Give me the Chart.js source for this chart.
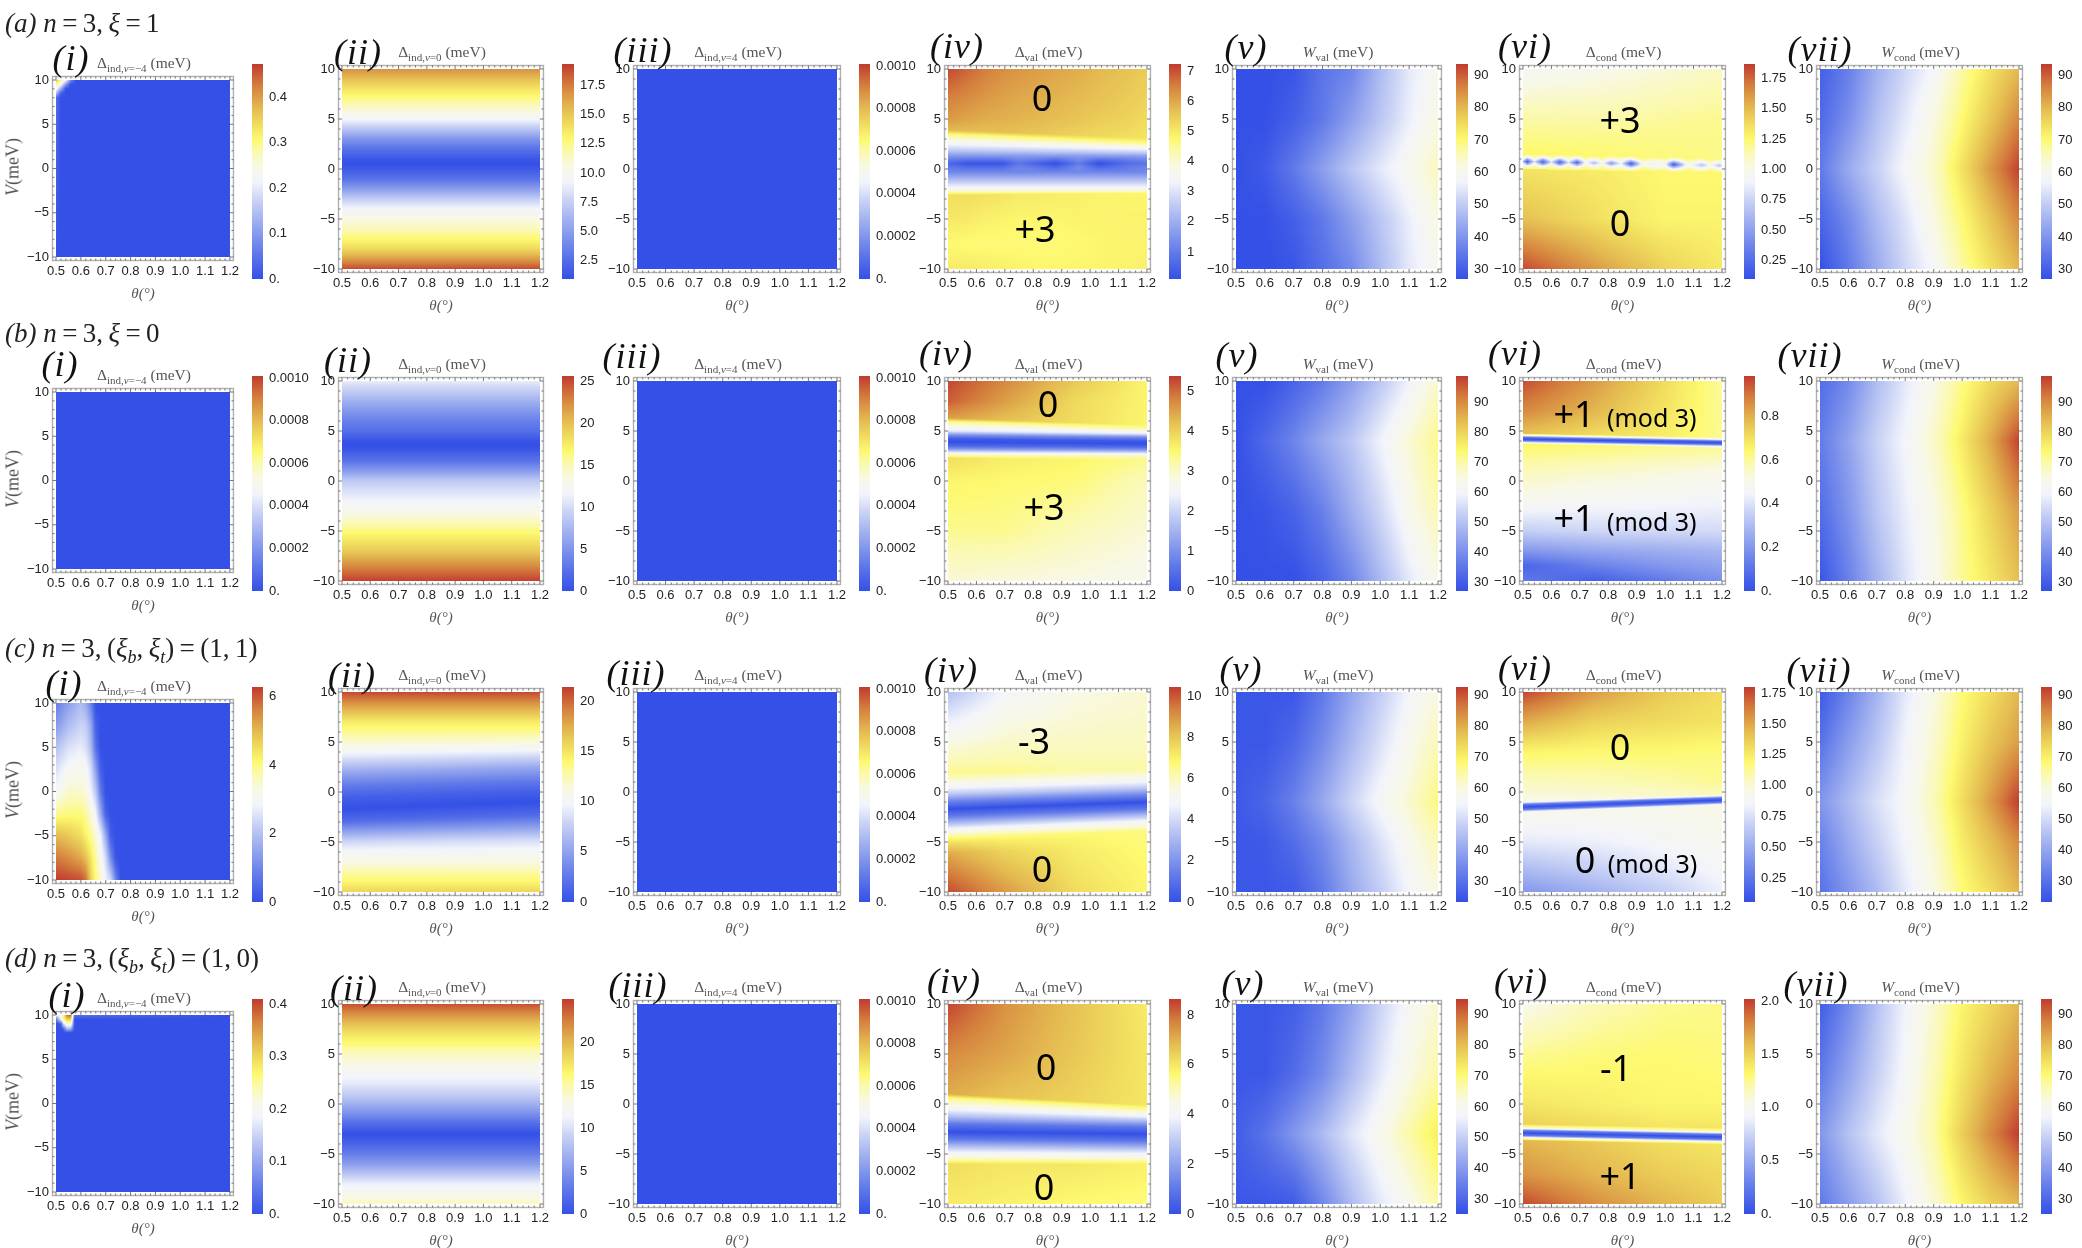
<!DOCTYPE html>
<html>
<head>
<meta charset="utf-8">
<style>
  html, body { margin: 0; padding: 0; background: #fff; }
  #page { position: relative; width: 2082px; height: 1248px; overflow: hidden; }
  canvas { position: absolute; }
  .txt { position: absolute; transform: translate(-50%, -50%); white-space: nowrap; }
  .rowTitle { font: 27px "Liberation Serif", serif; color: #222; transform: translate(0, -50%); }
  .rowTitle sub { font-size: 18px; line-height: 0; }
  .panelTag { font: italic 36px "Liberation Serif", serif; color: #111; letter-spacing: 1px; }
  .plotTitle { font: 15.5px "Liberation Serif", serif; color: #555; }
  .plotTitle sub { font-size: 11px; line-height: 0; }
  .vLabel { font: 18px "Liberation Serif", serif; color: #555; transform: translate(-50%, -50%) rotate(-90deg); }
  .note { font: 36px "Noto Sans", sans-serif; color: #000; }
  .note small { font-size: 25px; margin-left: 3px; }
</style>
</head>
<body>
<div id="page"></div>
<script src="https://cdn.jsdelivr.net/npm/chart.js@4"></script>
<script>
// axes shared by every panel
const thetaTicks = [0.5, 0.6, 0.7, 0.8, 0.9, 1.0, 1.1, 1.2];
const thetaLabels = ['0.5', '0.6', '0.7', '0.8', '0.9', '1.0', '1.1', '1.2'];
const vTicks = [-10, -5, 0, 5, 10];
const vLabels = ['\u221210', '\u22125', '0', '5', '10'];
const wX = [0.5, 0.6, 0.7, 0.8, 0.9, 1.0, 1.1, 1.2];

// colour bar labels
const milliTicks = ['0.', '0.0002', '0.0004', '0.0006', '0.0008', '0.0010'];
const decaTicks = ['30', '40', '50', '60', '70', '80', '90'];
const quarterTicks = ['0.25', '0.50', '0.75', '1.00', '1.25', '1.50', '1.75'];
const a1Ticks = ['0.', '0.1', '0.2', '0.3', '0.4'];
const a2Ticks = ['2.5', '5.0', '7.5', '10.0', '12.5', '15.0', '17.5'];
const a4Ticks = ['1', '2', '3', '4', '5', '6', '7'];
const b2Ticks = ['0', '5', '10', '15', '20', '25'];
const b4Ticks = ['0', '1', '2', '3', '4', '5'];
const b6Ticks = ['0.', '0.2', '0.4', '0.6', '0.8'];
const c1Ticks = ['0', '2', '4', '6'];
const c2Ticks = ['0', '5', '10', '15', '20'];
const c4Ticks = ['0', '2', '4', '6', '8', '10'];
const d4Ticks = ['0', '2', '4', '6', '8'];
const d6Ticks = ['0.', '0.5', '1.0', '1.5', '2.0'];

// panels (iii) and the b (i) panel are flat zero
const zeroX = [0.85];
const zeroY = [0];
const zeroZ = [0];

// row a
const a1X = [0.5, 0.52, 0.54, 0.56, 0.58, 1.2];
const a1Y = [10, 9.5, 9, 8.5, 8, -10];
const a1Z = [
  [0.38, 0.3, 0.22, 0.08, 0, 0],
  [0.3, 0.22, 0.1, 0, 0, 0],
  [0.24, 0.12, 0, 0, 0, 0],
  [0.15, 0.02, 0, 0, 0, 0],
  [0.04, 0, 0, 0, 0, 0],
  0
];
const a2X = [0.85];
const a2Y = [10, 9, 8, 7, 6, 5, 4, 3, 2, 1, 0.5, 0, -1, -2, -3, -4, -5, -6, -7, -8, -9, -10];
const a2Z = [16.9, 15.3, 13.8, 12.5, 11, 9.4, 7, 4.6, 2.8, 1.3, 0.95, 1.5, 2.8, 5, 7.4, 9.4, 10.5, 11.6, 12.9, 14.3, 16.5, 18.9];
const a4X = [0.5, 0.57, 0.63, 0.69, 0.75, 0.81, 0.88, 0.96, 1.03, 1.13, 1.2];
const a4Y = [10, 7, 5, 3.9, 3.5, 3, 2.4, 1.85, 1.4, 0.9, 0.55, 0.1, -0.3, -0.8, -1.3, -1.8, -2.2, -2.6, -5, -7.5, -10];
const a4Y2 = [10, 7, 5, 3.1, 2.7, 2.3, 1.95, 1.6, 1.3, 0.9, 0.55, 0.1, -0.3, -0.8, -1.3, -1.8, -2.2, -2.4, -5, -7.5, -10];
const a4Z = [
  [7.1, 6.8, 6.55, 6.35, 6.25, 6.15, 6.05, 5.95, 5.8, 5.65, 5.5],
  [6.5, 6.35, 6.2, 6.1, 6.0, 5.95, 5.85, 5.75, 5.65, 5.5, 5.4],
  [6.2, 6.05, 5.95, 5.9, 5.85, 5.8, 5.7, 5.6, 5.5, 5.4, 5.25],
  [5.8, 5.75, 5.7, 5.7, 5.65, 5.6, 5.5, 5.4, 5.3, 5.2, 5.1],
  4.75, 4.0, 3.25, 2.5, 1.7,
  [1.0, 0.8, 0.8, 0.8, 1.2, 1.0, 0.7, 1.3, 0.7, 1.0, 1.2],
  [0.6, 0.2, 0.2, 0.2, 0.9, 0.5, 0.1, 1.0, 0.1, 0.7, 0.9],
  [1.0, 0.8, 0.8, 0.8, 1.2, 1.0, 0.7, 1.3, 0.7, 1.0, 1.2],
  1.2, 1.9, 2.6, 3.3, 4.0,
  [5.2, 5.2, 5.15, 5.1, 5, 5, 4.95, 4.9, 4.85, 4.8, 4.8],
  [5.05, 5, 4.9, 4.85, 4.8, 4.8, 4.8, 4.85, 4.85, 4.85, 4.85],
  [4.75, 4.7, 4.7, 4.7, 4.7, 4.7, 4.7, 4.75, 4.8, 4.85, 4.85],
  [5.0, 5, 4.95, 4.9, 4.85, 4.8, 4.8, 4.8, 4.8, 4.85, 4.9]
];
const a5Y = [10, 5, 0, -5, -10];
const a5Z = [
  [27, 27, 28, 34, 37, 47, 55, 60],
  [27, 27, 30, 35, 42, 49, 56, 62],
  [27, 29, 35, 42, 49, 55, 60, 65],
  [27, 27, 30, 35, 42, 49, 56, 62],
  [27, 27, 28, 33, 38, 47, 55, 60]
];
const a6X = [0.5, 0.8, 1, 1.2];
const a6Y = [10, 5, 1.2, 0, -5, -10];
const a6Z = [
  [0.95, 1.0, 1.05, 1.1],
  [1.16, 1.16, 1.18, 1.2],
  [1.27, 1.25, 1.23, 1.21],
  [1.34, 1.3, 1.25, 1.25],
  [1.48, 1.34, 1.27, 1.27],
  [1.83, 1.57, 1.41, 1.32]
];
// the broken thin line near V = 0.5 in a (vi)
const a6LineX = [0.5, 0.515, 0.54, 0.57, 0.6, 0.63, 0.66, 0.69, 0.72, 0.75, 0.78, 0.81, 0.845, 0.88, 0.92, 0.96, 1.0, 1.03, 1.08, 1.13, 1.16, 1.19, 1.2];
const a6LineY = [1.5, 1.2, 0.97, 0.75, 0.53, 0.3, 0];
const a6LineY2 = [1.1, 0.8, 0.57, 0.35, 0.13, -0.1, -0.4];
const a6Core = [0.6, 0.18, 0.8, 0.18, 0.8, 0.18, 0.8, 0.2, 0.95, 0.63, 0.95, 0.45, 0.9, 0.15, 0.95, 0.86, 0.95, 0.15, 1.0, 0.66, 0.95, 0.68, 0.8];
const a6Edge = [0.95, 0.5, 1.0, 0.5, 1.0, 0.5, 1.0, 0.55, 1.05, 0.85, 1.05, 0.75, 1.0, 0.5, 1.05, 1.0, 1.0, 0.5, 1.05, 0.85, 1.05, 0.85, 0.95];
const a6Halo = [1.15, 0.95, 1.15, 0.95, 1.15, 0.95, 1.15, 0.95, 1.2, 1.05, 1.2, 1.0, 1.1, 0.9, 1.2, 1.1, 1.15, 0.9, 1.2, 1.05, 1.2, 1.05, 1.05];
const a6LineZ = [1.26, a6Halo, a6Edge, a6Core, a6Edge, a6Halo, 1.27];
const a7Y = [10, 5, 0, -5, -10];
const a7Z = [
  [30, 36, 45, 52, 58, 67, 74, 80],
  [32, 39, 48, 55, 62, 70, 78, 86],
  [35, 44, 51, 58, 64, 74, 84, 93],
  [31, 38, 47, 54, 62, 70, 78, 86],
  [27, 35, 44, 52, 58, 67, 74, 80]
];

// row b
const b2X = [0.85];
const b2Y = [10, 9, 8, 7, 6, 5, 4, 3.5, 3, 2, 1, 0, -1, -2, -3, -4, -5, -6, -7, -8, -9, -10];
const b2Z = [11, 9, 7, 5.2, 3.6, 2.3, 0.3, 0, 0.8, 2.6, 5.6, 8.8, 10.3, 11.6, 12.9, 14.6, 16.4, 18, 19.5, 21.6, 23.6, 25.5];
const b4X = [0.5, 0.7, 0.95, 1.2];
const b4Y = [10, 8, 6.3, 5.9, 5.5, 5.0, 4.6, 4.2, 3.9, 3.5, 3.2, 2.9, 2.6, 2.3, 0, -5, -10];
const b4Y2 = [10, 8, 5.6, 5.3, 5.0, 4.7, 4.4, 4.0, 3.7, 3.4, 3.1, 2.8, 2.5, 2.1, 0, -5, -10];
const b4Z = [
  [5.3, 4.75, 4.1, 3.55],
  [5.1, 4.55, 3.9, 3.55],
  [4.55, 4.2, 3.85, 3.55],
  3.3, 2.8, 2.25, 1, 0.15, 0, 0.4, 1.1, 2.15, 3.1,
  [3.85, 3.65, 3.55, 3.35],
  [3.55, 3.5, 3.45, 3.1],
  [3.35, 3.35, 3.1, 2.9],
  [2.9, 2.85, 2.8, 2.7]
];
const b5Y = [10, 4, -3, -10];
const b5Z = [
  [27, 27, 31, 36, 43, 51, 59, 67],
  [27, 32, 38, 45, 51, 59, 66, 72],
  [27, 28, 31, 37, 46, 54, 63, 69],
  [27, 27, 27, 31, 38, 48, 57, 64]
];
const b6X = [0.5, 0.75, 1, 1.2];
const b6Y = [10, 7, 4.75, 4.55, 4.35, 4.2, 4.05, 3.85, 3.7, 1, -2, -5, -7, -8.5, -10];
const b6Y2 = [10, 7, 4.35, 4.15, 3.98, 3.82, 3.66, 3.46, 3.3, 1, -2, -5, -7, -8.5, -10];
const b6Z = [
  [0.96, 0.84, 0.71, 0.6],
  [0.87, 0.79, 0.69, 0.61],
  [0.77, 0.71, 0.67, 0.61],
  0.44, 0.1, 0, 0.1, 0.44,
  [0.65, 0.64, 0.62, 0.61],
  [0.57, 0.55, 0.53, 0.51],
  [0.49, 0.47, 0.46, 0.45],
  [0.35, 0.37, 0.38, 0.38],
  [0.2, 0.24, 0.26, 0.28],
  [0.06, 0.14, 0.2, 0.23],
  [0.12, 0.04, 0.12, 0.18]
];
const b7Y = [10, 4, -3, -10];
const b7Z = [
  [33, 39, 49, 57, 64, 72, 79, 84],
  [36, 44, 53, 60, 67, 76, 86, 98],
  [33, 41, 51, 58, 64, 72, 80, 88],
  [28, 37, 47, 56, 63, 71, 77, 83]
];

// row c
const c1X = [0.5, 0.55, 0.6, 0.62, 0.64, 0.66, 0.68, 0.7, 0.72, 0.74, 0.76, 1.2];
const c1Y = [10, 7.5, 5, 2.5, 0, -2.5, -5, -7.5, -10];
const c1Z = [
  [0.8, 1.4, 1.9, 1.6, 0.9, 0, 0, 0, 0, 0, 0, 0],
  [1.3, 1.9, 2.3, 2.2, 1.6, 0.3, 0, 0, 0, 0, 0, 0],
  [2.0, 2.5, 2.7, 2.5, 1.9, 0.6, 0, 0, 0, 0, 0, 0],
  [2.5, 3.0, 3.1, 3.0, 2.5, 1.4, 0.25, 0, 0, 0, 0, 0],
  [3.0, 3.5, 3.5, 3.3, 2.8, 2.1, 0.75, 0, 0, 0, 0, 0],
  [3.9, 4.0, 4.0, 3.8, 3.4, 2.8, 1.6, 0.3, 0, 0, 0, 0],
  [5.0, 4.8, 4.5, 4.2, 3.9, 3.4, 2.8, 1.6, 0.25, 0, 0, 0],
  [5.7, 5.5, 5.2, 4.9, 4.4, 3.8, 3.1, 2.4, 1.1, 0.1, 0, 0],
  [6.3, 6.2, 6.1, 5.8, 4.7, 4.0, 3.5, 2.8, 2.4, 1.0, 0, 0]
];
const c2X = [0.85];
const c2Y = [10, 9, 8, 7, 6, 5, 4, 3, 2, 0.6, -0.6, -1.7, -2.9, -4, -5, -6, -7, -8, -9, -10];
const c2Y2 = [10, 9, 8, 7, 6, 5.2, 4.3, 3.4, 2.5, 1.1, 0, -1, -2.3, -3.6, -4.7, -5.8, -6.9, -8, -9, -10];
const c2Z = [21, 18.8, 16.7, 14.6, 13.3, 11.8, 10, 7.7, 5.4, 2.6, 0.9, 0, 1.7, 5.1, 8.1, 10, 11.1, 12.8, 14.1, 15.8];
const c4X = [0.5, 0.7, 0.95, 1.2];
const c4Y = [10, 7, 4, 1.9, 1.2, 0.5, -0.2, -0.9, -1.7, -2.4, -3.1, -3.7, -4.1, -4.6, -5.1, -6.1, -10];
const c4Y2 = [10, 7, 4, 2.3, 1.8, 1.1, 0.4, -0.3, -1, -1.7, -2.3, -2.9, -3.4, -3.9, -4.4, -5.5, -10];
const c4Z = [
  [3.3, 4.8, 5.4, 5.7],
  [4.6, 5.4, 5.7, 5.8],
  [5.8, 6, 6, 6],
  [6.5, 6.5, 6.3, 6.3],
  5.7, 4.9, 3.5, 1.6, 0, 1.25, 3.1, 4.8, 5.6, 6.7,
  [7.5, 7.1, 6.9, 6.6],
  [8.6, 7.7, 7.1, 6.7],
  [10.2, 8.9, 7.5, 6.9]
];
const c5Y = [10, 5, -1, -5, -10];
const c5Z = [
  [24.6, 24.6, 24.6, 31.5, 40, 47.5, 55, 60],
  [24.6, 24.6, 28, 35, 43.4, 51, 58, 63.5],
  [25, 27.4, 33, 40.6, 49, 56, 61.4, 67.7],
  [24.6, 25, 29, 35, 43.4, 51, 58, 63.5],
  [24.6, 24.6, 25.3, 31.5, 40.6, 47.5, 55, 60]
];
const c6X = [0.5, 0.75, 1, 1.2];
const c6Y = [10, 7, 4, 1, -0.85, -1.0, -1.25, -1.5, -1.75, -2, -2.15, -5, -7.5, -10];
const c6Y2 = [10, 7, 4, 1, -0.2, -0.35, -0.58, -0.8, -1.02, -1.25, -1.4, -5, -7.5, -10];
const c6Z = [
  [1.77, 1.54, 1.38, 1.31],
  [1.49, 1.35, 1.31, 1.28],
  [1.21, 1.19, 1.19, 1.17],
  [1.05, 1.07, 1.1, 1.14],
  [0.96, 0.98, 1.02, 1.07],
  0.93, 0.27, 0.06, 0.27, 0.9,
  [0.93, 0.93, 0.93, 0.96],
  [0.79, 0.82, 0.88, 0.91],
  [0.6, 0.69, 0.79, 0.88],
  [0.41, 0.53, 0.67, 0.82]
];
const c7Y = [10, 5, -1, -5, -10];
const c7Z = [
  [25, 33.6, 42.7, 52.4, 59.3, 67.7, 73, 78.8],
  [30, 38.5, 46, 54.5, 61.4, 69.8, 76.7, 82],
  [37, 44, 51, 56, 63.5, 73, 82.3, 92.7],
  [33, 41, 48.2, 55, 61.4, 70.5, 77.4, 84.4],
  [30, 37, 44, 52.4, 59.3, 67.7, 73, 78.8]
];

// row d
const d1X = [0.5, 0.52, 0.53, 0.545, 0.56, 0.575, 1.2];
const d1Y = [10, 9.5, 9, 8.4, 8, -10];
const d1Z = [
  [0.18, 0.21, 0.27, 0.38, 0.39, 0.04, 0],
  [0.04, 0.18, 0.25, 0.31, 0.3, 0, 0],
  [0, 0.02, 0.16, 0.23, 0.22, 0, 0],
  [0, 0, 0.02, 0.12, 0.1, 0, 0],
  0, 0
];
const d2X = [0.85];
const d2Y = [10, 9, 8, 7, 6, 5, 4, 3, 2, 1, 0, -1, -2, -3, -4, -5, -6, -7, -8, -9, -10];
const d2Z = [24.2, 21.8, 19.5, 17.5, 16, 14.3, 13, 11.8, 10.5, 8.8, 6.8, 4.5, 2, 0, 1.5, 3.3, 5.5, 8.3, 11, 12.5, 14.3];
const d4X = [0.5, 0.7, 0.95, 1.2];
const d4Y = [10, 5, 1, 0.6, 0.1, -0.5, -1.3, -2, -2.8, -3.5, -4.2, -4.9, -5.4, -5.8, -6, -10];
const d4Y2 = [10, 5, -0.1, -0.4, -0.8, -1.2, -1.7, -2.3, -3, -3.7, -4.4, -5, -5.5, -5.9, -6.1, -10];
const d4Z = [
  [8.5, 7.5, 6.7, 5.9],
  [7.6, 7.2, 6.6, 6.0],
  [7.1, 6.7, 6.4, 6.0],
  5.5, 4.75, 4, 2.6, 1, 0, 1, 2.6, 4, 4.75, 5.7,
  [6.2, 6, 6, 5.8],
  [5.9, 5.8, 5.6, 5.5]
];
const d5Y = [10, 3, -3, -10];
const d5Z = [
  [26.8, 26.8, 28.2, 33.7, 41.4, 51, 58.8, 63.6],
  [26.8, 26.8, 31, 37.2, 46.3, 54.6, 61.5, 67],
  [28.2, 32.4, 39.3, 46.3, 54, 60.2, 67, 72.7],
  [26.8, 26.8, 27.5, 36.5, 46.3, 54.6, 60.2, 67]
];
const d6X = [0.5, 0.75, 1, 1.2];
const d6Y = [10, 5, 0, -2, -2.3, -2.45, -2.65, -2.9, -3.15, -3.35, -3.5, -3.65, -7, -10];
const d6Y2 = [10, 5, 0, -2.4, -2.7, -2.85, -3.05, -3.3, -3.55, -3.75, -3.9, -4.05, -7, -10];
const d6Z = [
  [1.02, 1.17, 1.25, 1.27],
  [1.25, 1.29, 1.31, 1.29],
  [1.41, 1.37, 1.33, 1.33],
  [1.5, 1.45, 1.41, 1.41],
  1.2, 0.95, 0.25, 0, 0.25, 0.95, 1.25,
  [1.62, 1.54, 1.45, 1.41],
  [1.74, 1.62, 1.52, 1.47],
  [1.98, 1.76, 1.62, 1.52]
];
const d7Y = [10, 3, -3, -10];
const d7Z = [
  [28, 37, 47.6, 56.7, 63.6, 71.3, 76.1, 81],
  [33.7, 42, 50.4, 58, 65.7, 74, 81, 86.6],
  [39.3, 47.6, 54.6, 60, 67, 77.5, 86.6, 94.9],
  [33.7, 40.7, 47.6, 56, 63, 71.3, 76.8, 81]
];

// colour bar ranges
const flatRange = [0, 0.00101];
const a1Range = [0, 0.473], a2Range = [0.95, 19.3], a4Range = [0.1, 7.25], a5Range = [27, 93.5], a6Range = [0.095, 1.87], a7Range = [27, 93.5];
const b2Range = [0, 25.7], b4Range = [0, 5.38], b5Range = [27, 98.7], b6Range = [0, 0.987], b7Range = [27, 98.7];
const c1Range = [0, 6.29], c2Range = [0, 21.4], c4Range = [0, 10.44], c5Range = [23.2, 92.7], c6Range = [0.058, 1.8], c7Range = [23.2, 92.7];
const d1Range = [0, 0.41], d2Range = [0, 25], d4Range = [0, 8.64], d5Range = [25.4, 94.9], d6Range = [0, 2.02], d7Range = [25.4, 94.9];

const flat = { x: zeroX, y: zeroY, z: zeroZ, range: flatRange, ticks: milliTicks };
const grid = [
  [
    { x: a1X, y: a1Y, z: a1Z, range: a1Range, ticks: a1Ticks },
    { x: a2X, y: a2Y, z: a2Z, range: a2Range, ticks: a2Ticks },
    flat,
    { x: a4X, y: a4Y, y2: a4Y2, z: a4Z, range: a4Range, ticks: a4Ticks },
    { x: wX, y: a5Y, z: a5Z, range: a5Range, ticks: decaTicks },
    { x: a6X, y: a6Y, z: a6Z, range: a6Range, ticks: quarterTicks, line: { x: a6LineX, y: a6LineY, y2: a6LineY2, z: a6LineZ } },
    { x: wX, y: a7Y, z: a7Z, range: a7Range, ticks: decaTicks }
  ],
  [
    flat,
    { x: b2X, y: b2Y, z: b2Z, range: b2Range, ticks: b2Ticks },
    flat,
    { x: b4X, y: b4Y, y2: b4Y2, z: b4Z, range: b4Range, ticks: b4Ticks },
    { x: wX, y: b5Y, z: b5Z, range: b5Range, ticks: decaTicks },
    { x: b6X, y: b6Y, y2: b6Y2, z: b6Z, range: b6Range, ticks: b6Ticks },
    { x: wX, y: b7Y, z: b7Z, range: b7Range, ticks: decaTicks }
  ],
  [
    { x: c1X, y: c1Y, z: c1Z, range: c1Range, ticks: c1Ticks },
    { x: c2X, y: c2Y, y2: c2Y2, z: c2Z, range: c2Range, ticks: c2Ticks },
    flat,
    { x: c4X, y: c4Y, y2: c4Y2, z: c4Z, range: c4Range, ticks: c4Ticks },
    { x: wX, y: c5Y, z: c5Z, range: c5Range, ticks: decaTicks },
    { x: c6X, y: c6Y, y2: c6Y2, z: c6Z, range: c6Range, ticks: quarterTicks },
    { x: wX, y: c7Y, z: c7Z, range: c7Range, ticks: decaTicks }
  ],
  [
    { x: d1X, y: d1Y, z: d1Z, range: d1Range, ticks: a1Ticks },
    { x: d2X, y: d2Y, z: d2Z, range: d2Range, ticks: c2Ticks },
    flat,
    { x: d4X, y: d4Y, y2: d4Y2, z: d4Z, range: d4Range, ticks: d4Ticks },
    { x: wX, y: d5Y, z: d5Z, range: d5Range, ticks: decaTicks },
    { x: d6X, y: d6Y, y2: d6Y2, z: d6Z, range: d6Range, ticks: d6Ticks },
    { x: wX, y: d7Y, z: d7Z, range: d7Range, ticks: decaTicks }
  ]
];

// colour map of the bars
const colorStops = [
  [0, '#3450e6'], [0.12, '#6079e9'], [0.25, '#97a8ee'], [0.38, '#d0d8f6'], [0.45, '#f2f4fb'], [0.52, '#f8f8e6'],
  [0.6, '#fbf9a8'], [0.65, '#fdf970'], [0.72, '#f0dc5e'], [0.8, '#e3b750'], [0.9, '#d47f3d'], [1, '#c13a30']
];

// page layout
const rowOffset = [0, 312, 623, 935];
const plotX = [[56, 232], [342, 542], [637, 839], [948, 1149], [1236, 1440], [1523, 1724], [1820, 2021]];
const barX = [[252, 263], [562, 574], [859, 870], [1169, 1181], [1456, 1468], [1744, 1755], [2041, 2052]];
const rowTitles = [
  ['<i>(a) n</i>\u2009=\u20093,\u2009<i>\u03be</i>\u2009=\u20091', 23],
  ['<i>(b) n</i>\u2009=\u20093,\u2009<i>\u03be</i>\u2009=\u20090', 333],
  ['<i>(c) n</i>\u2009=\u20093,\u2009(<i>\u03be<sub>b</sub></i>,\u2009<i>\u03be<sub>t</sub></i>)\u2009=\u2009(1,\u20091)', 648],
  ['<i>(d) n</i>\u2009=\u20093,\u2009(<i>\u03be<sub>b</sub></i>,\u2009<i>\u03be<sub>t</sub></i>)\u2009=\u2009(1,\u20090)', 958]
];
const tagNames = ['(i)', '(ii)', '(iii)', '(iv)', '(v)', '(vi)', '(vii)'];
const tagPos = [
  [[71, 58], [358, 52], [643, 50], [957, 46], [1246, 47], [1525, 46], [1820, 49]],
  [[60, 364], [348, 360], [632, 356], [946, 353], [1237, 355], [1515, 353], [1810, 355]],
  [[64, 683], [352, 675], [636, 673], [951, 670], [1241, 669], [1525, 668], [1819, 670]],
  [[67, 995], [354, 988], [638, 985], [954, 981], [1243, 983], [1521, 981], [1816, 984]]
];
const plotTitles = [
  '\u0394<sub>ind,<i>\u03bd</i>=\u22124</sub> (meV)', '\u0394<sub>ind,<i>\u03bd</i>=0</sub> (meV)', '\u0394<sub>ind,<i>\u03bd</i>=4</sub> (meV)',
  '\u0394<sub>val</sub> (meV)', '<i>W</i><sub>val</sub> (meV)', '\u0394<sub>cond</sub> (meV)', '<i>W</i><sub>cond</sub> (meV)'
];
const notes = [
  ['0', 1042, 97], ['+3', 1035, 228], ['+3', 1620, 119], ['0', 1620, 222],
  ['0', 1048, 403], ['+3', 1044, 506], ['+1 <small>(mod 3)</small>', 1625, 413], ['+1 <small>(mod 3)</small>', 1625, 517],
  ['-3', 1034, 740], ['0', 1042, 868], ['0', 1620, 746], ['0 <small>(mod 3)</small>', 1636, 859],
  ['0', 1046, 1066], ['0', 1044, 1186], ['-1', 1616, 1067], ['+1', 1620, 1175]
];

const page = document.getElementById('page');

function addText(cls, html, x, y) {
  const el = document.createElement('div');
  el.className = 'txt ' + cls;
  el.innerHTML = html;
  el.style.left = x + 'px';
  el.style.top = y + 'px';
  page.appendChild(el);
}

function addCanvas(left, top, w, h) {
  const c = document.createElement('canvas');
  c.width = w;
  c.height = h;
  c.style.left = left + 'px';
  c.style.top = top + 'px';
  page.appendChild(c);
  return c.getContext('2d');
}

function hexRgb(h) {
  return [parseInt(h.slice(1, 3), 16), parseInt(h.slice(3, 5), 16), parseInt(h.slice(5, 7), 16)];
}

// lookup table for the colour map
const lut = [];
for (let i = 0; i <= 511; i++) {
  const t = i / 511;
  let k = 0;
  while (k < colorStops.length - 2 && t > colorStops[k + 1][0]) k++;
  const a = colorStops[k], b = colorStops[k + 1];
  const f = (t - a[0]) / (b[0] - a[0]);
  const ca = hexRgb(a[1]), cb = hexRgb(b[1]);
  lut.push([0, 1, 2].map(n => ca[n] + (cb[n] - ca[n]) * f));
}

function rowValue(row, xs, th) {
  if (typeof row === 'number') return row;
  if (th <= xs[0]) return row[0];
  for (let i = 0; i < xs.length - 1; i++) {
    if (th <= xs[i + 1]) {
      const f = (th - xs[i]) / (xs[i + 1] - xs[i]);
      return row[i] + (row[i + 1] - row[i]) * f;
    }
  }
  return row[row.length - 1];
}

// rows may lean: y holds their V at theta = 0.5, y2 at theta = 1.2
function shade(g, th, v) {
  const u = (th - 0.5) / 0.7;
  const at = i => g.y2 ? g.y[i] + (g.y2[i] - g.y[i]) * u : g.y[i];
  const n = g.y.length;
  if (v >= at(0)) return rowValue(g.z[0], g.x, th);
  for (let i = 0; i < n - 1; i++) {
    const hi = at(i), lo = at(i + 1);
    if (v >= lo) {
      const f = (hi - v) / (hi - lo);
      const a = rowValue(g.z[i], g.x, th), b = rowValue(g.z[i + 1], g.x, th);
      return a + (b - a) * f;
    }
  }
  return rowValue(g.z[n - 1], g.x, th);
}

function inLine(line, th, v) {
  const u = (th - 0.5) / 0.7;
  const last = line.y.length - 1;
  const top = line.y[0] + (line.y2[0] - line.y[0]) * u;
  const bot = line.y[last] + (line.y2[last] - line.y[last]) * u;
  return v <= top && v >= bot;
}

function heatPlugin(panel) {
  return {
    id: 'heat',
    beforeDatasetsDraw(chart) {
      const area = chart.chartArea, sx = chart.scales.x, sy = chart.scales.y;
      const w = Math.round(area.right - area.left), h = Math.round(area.bottom - area.top);
      const off = document.createElement('canvas');
      off.width = w;
      off.height = h;
      const oc = off.getContext('2d');
      const img = oc.createImageData(w, h);
      const span = panel.range[1] - panel.range[0];
      for (let j = 0; j < h; j++) {
        const v = sy.getValueForPixel(area.top + j + 0.5);
        for (let i = 0; i < w; i++) {
          const th = sx.getValueForPixel(area.left + i + 0.5);
          const val = panel.line && inLine(panel.line, th, v) ? shade(panel.line, th, v) : shade(panel, th, v);
          const t = Math.max(0, Math.min(1, (val - panel.range[0]) / span));
          const c = lut[Math.round(t * 511)];
          const p = (j * w + i) * 4;
          img.data[p] = c[0];
          img.data[p + 1] = c[1];
          img.data[p + 2] = c[2];
          img.data[p + 3] = 255;
        }
      }
      oc.putImageData(img, 0, 0);
      chart.ctx.drawImage(off, area.left, area.top);
    },
    afterDraw(chart) {
      const ctx = chart.ctx, a = chart.chartArea, sx = chart.scales.x, sy = chart.scales.y;
      const gap = 3.5;
      const l = a.left - gap, r = a.right + gap, t = a.top - gap, b = a.bottom + gap;
      ctx.save();
      ctx.strokeStyle = '#b0b0b0';
      ctx.lineWidth = 1.4;
      ctx.strokeRect(l, t, r - l, b - t);
      ctx.strokeStyle = '#555';
      ctx.lineWidth = 0.8;
      ctx.beginPath();
      for (let k = 0; k <= 35; k++) {
        const x = sx.getPixelForValue(0.5 + k * 0.02), len = k % 5 === 0 ? 3.5 : 2;
        ctx.moveTo(x, b); ctx.lineTo(x, b - len);
        ctx.moveTo(x, t); ctx.lineTo(x, t + len);
      }
      for (let k = -10; k <= 10; k++) {
        const y = sy.getPixelForValue(k), len = k % 5 === 0 ? 3.5 : 2;
        ctx.moveTo(l, y); ctx.lineTo(l + len, y);
        ctx.moveTo(r, y); ctx.lineTo(r - len, y);
      }
      ctx.stroke();
      ctx.restore();
    }
  };
}

const tickFont = { family: '"Liberation Sans", sans-serif', size: 13 };

function drawPanel(panel, dl, dr, dt, db) {
  // the top pad has to stay above half a tick label or Chart.js pushes the plot down
  const leftPad = 44, topPad = 20, rightPad = 14, bottomPad = 46;
  const ctx = addCanvas(dl - leftPad, dt - topPad, dr - dl + leftPad + rightPad, db - dt + topPad + bottomPad);
  const points = [];
  panel.y.forEach((v, i) => panel.x.forEach((th, k) => {
    const row = panel.z[i];
    points.push({ x: th, y: v, v: typeof row === 'number' ? row : row[k] });
  }));
  new Chart(ctx, {
    type: 'scatter',
    data: { datasets: [{ data: points, pointRadius: 0 }] },
    plugins: [heatPlugin(panel)],
    options: {
      responsive: false,
      animation: false,
      devicePixelRatio: 1,
      layout: { autoPadding: false, padding: { left: 0, top: topPad, right: rightPad, bottom: 0 } },
      plugins: { legend: { display: false }, tooltip: { enabled: false } },
      scales: {
        x: {
          type: 'linear', min: 0.5, max: 1.2,
          afterBuildTicks: ax => { ax.ticks = thetaTicks.map(value => ({ value })); },
          afterFit: ax => { ax.height = bottomPad; },
          grid: { display: false, drawTicks: false }, border: { display: false },
          ticks: { font: tickFont, color: '#222', padding: 7, maxRotation: 0, autoSkip: false, callback: (val, i) => thetaLabels[i] },
          title: { display: true, text: '\u03b8(\u00b0)', color: '#555', padding: 0, font: { family: '"Liberation Serif", serif', size: 15, style: 'italic' } }
        },
        y: {
          type: 'linear', min: -10, max: 10,
          afterBuildTicks: ax => { ax.ticks = vTicks.map(value => ({ value })); },
          afterFit: ax => { ax.width = leftPad; },
          grid: { display: false, drawTicks: false }, border: { display: false },
          ticks: { font: tickFont, color: '#222', padding: 7, autoSkip: false, callback: (val, i) => vLabels[i] }
        }
      }
    }
  });
}

function drawBar(panel, bl, br, bt, bb) {
  const pad = 20, axisW = 56;
  const ctx = addCanvas(bl, bt - pad, br - bl + axisW, bb - bt + pad * 2);
  new Chart(ctx, {
    type: 'bar',
    data: {
      labels: [''],
      datasets: [{
        data: [panel.range],
        barPercentage: 1,
        categoryPercentage: 1,
        backgroundColor: c => {
          const a = c.chart.chartArea;
          if (!a) return colorStops[0][1];
          const g = c.chart.ctx.createLinearGradient(0, a.bottom, 0, a.top);
          colorStops.forEach(s => g.addColorStop(s[0], s[1]));
          return g;
        }
      }]
    },
    options: {
      responsive: false,
      animation: false,
      devicePixelRatio: 1,
      layout: { autoPadding: false, padding: { top: pad, bottom: pad } },
      plugins: { legend: { display: false }, tooltip: { enabled: false } },
      scales: {
        x: { display: false },
        y: {
          type: 'linear', position: 'right', min: panel.range[0], max: panel.range[1],
          afterBuildTicks: ax => { ax.ticks = panel.ticks.map(s => ({ value: parseFloat(s) })); },
          afterFit: ax => { ax.width = axisW; },
          grid: { display: false, drawTicks: false }, border: { display: false },
          ticks: { font: tickFont, color: '#222', padding: 6, autoSkip: false, callback: (val, i) => panel.ticks[i] }
        }
      }
    }
  });
}

grid.forEach((row, r) => {
  const off = rowOffset[r];
  row.forEach((panel, c) => {
    const dt = off + (c === 0 ? 80 : 69), db = off + (c === 0 ? 257 : 269);
    drawPanel(panel, plotX[c][0], plotX[c][1], dt, db);
    drawBar(panel, barX[c][0], barX[c][1], off + 64, off + 279);
    addText('plotTitle', plotTitles[c], (plotX[c][0] + plotX[c][1]) / 2, dt - 17);
    addText('panelTag', tagNames[c], tagPos[r][c][0], tagPos[r][c][1]);
  });
  addText('vLabel', '<i>V</i>(meV)', 13, off + 167);
  addText('rowTitle', rowTitles[r][0], 5, rowTitles[r][1]);
});
notes.forEach(n => addText('note', n[0], n[1], n[2]));
</script>
</body>
</html>
